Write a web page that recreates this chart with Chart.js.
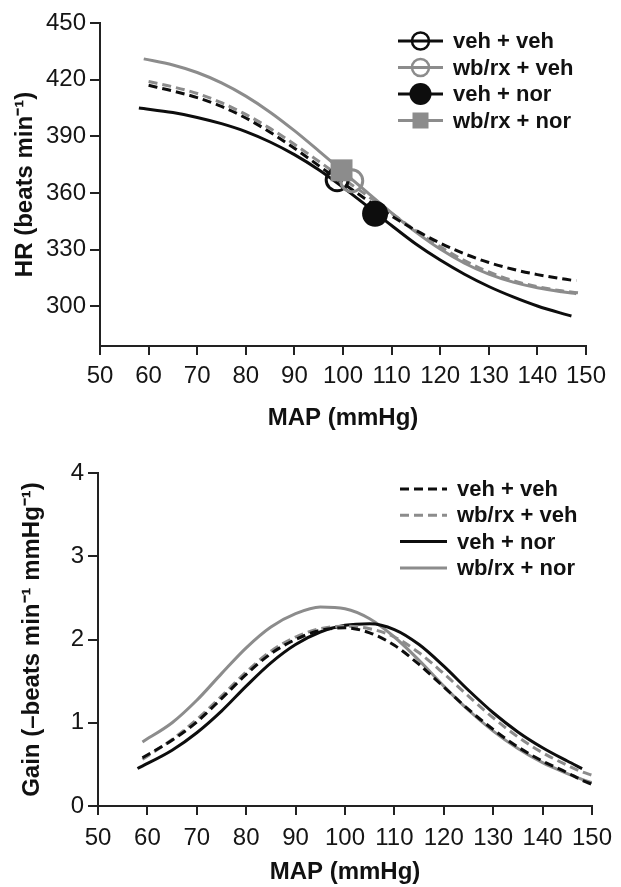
<!DOCTYPE html>
<html>
<head>
<meta charset="utf-8">
<script src="https://cdn.jsdelivr.net/npm/chart.js@4.4.0/dist/chart.umd.min.js"></script>
<style>
  html, body { margin: 0; padding: 0; background: #fff; }
  #wrap { position: relative; width: 621px; height: 887px; }
  #hr, #gain { position: absolute; left: 0; }
  #hr { top: 0; }
  #gain { top: 440px; }
</style>
</head>
<body>
<div id="wrap">
  <canvas id="hr" width="621" height="440"></canvas>
  <canvas id="gain" width="621" height="447"></canvas>
</div>
<script>
// group names (legend order)
const groups = ['veh + veh', 'wb/rx + veh', 'veh + nor', 'wb/rx + nor'];

// ---- top panel: HR vs MAP ----
const hrMap     = [58, 59, 60, 65, 70, 75, 80, 85, 90, 95, 100, 105, 110, 115, 120, 125, 130, 135, 140, 145, 147, 148, 149];
const hrVehVeh  = [null, null, 417, 414, 410.5, 405.8, 399.7, 392.2, 383.7, 374.5, 365.2, 356.2, 347.8, 340.2, 333.5, 327.8, 323.2, 319.6, 316.8, 314.6, null, 313.5, null];
const hrWbVeh   = [null, null, 419, 416.2, 412.7, 407.8, 401.6, 394.2, 385.8, 376.8, 367.6, 358.6, 349.2, 340, 331.6, 324.2, 318.2, 313.6, 310.4, 308.2, null, null, 307];
const hrVehNor  = [405, null, null, 402.6, 400, 396.7, 392.5, 387, 380.3, 372.3, 363, 353, 342.8, 333, 324.5, 317, 310.5, 305, 300.2, 296.3, 294.9, null, null];
const hrWbNor   = [null, 431, null, 427.8, 423.8, 418.3, 411.3, 402.8, 393, 382.3, 371.3, 360.3, 349.5, 339.3, 330.3, 322.8, 317, 312.8, 309.8, 307.7, null, 306.7, null];
// resting points (one per group)
const restMap = [98.8, 101.8, 106.6, 99.7];
const restHR  = [367, 366.5, 349, 372];
const hrTicks = [300, 330, 360, 390, 420, 450];

// ---- bottom panel: gain vs MAP ----
const gainMap    = [58, 59, 65, 70, 75, 80, 85, 90, 95, 100, 105, 110, 115, 120, 125, 130, 135, 140, 145, 148, 150];
const gainVehVeh = [null, 0.58, 0.79, 1.01, 1.29, 1.58, 1.83, 2.0, 2.11, 2.14, 2.08, 1.93, 1.7, 1.43, 1.16, 0.92, 0.71, 0.54, 0.4, 0.31, 0.26];
const gainWbVeh  = [null, 0.56, 0.8, 1.04, 1.32, 1.61, 1.86, 2.03, 2.13, 2.16, 2.13, 2.03, 1.84, 1.59, 1.32, 1.06, 0.83, 0.64, 0.49, 0.41, 0.37];
const gainVehNor = [0.45, null, 0.67, 0.88, 1.14, 1.44, 1.72, 1.94, 2.09, 2.17, 2.19, 2.12, 1.94, 1.68, 1.39, 1.12, 0.89, 0.7, 0.54, 0.45, null];
const gainWbNor  = [null, 0.77, 1.0, 1.27, 1.59, 1.9, 2.15, 2.31, 2.39, 2.37, 2.25, 2.03, 1.75, 1.44, 1.15, 0.9, 0.69, 0.52, 0.39, 0.32, 0.28];
const gainTicks = [0, 1, 2, 3, 4];

const BLACK = '#0d0d0d';
const GREY = '#8c8c8c';
const DASH = [9, 5];
const styles = [
    { color: BLACK, dash: DASH, marker: { style: 'circle', r: 11, fill: false } },
    { color: GREY,  dash: DASH, marker: { style: 'circle', r: 11, fill: false } },
    { color: BLACK, dash: [],   marker: { style: 'circle', r: 13, fill: true } },
    { color: GREY,  dash: [],   marker: { style: 'rect',   r: 15.5, fill: true } },
];

Chart.defaults.font.family = '"Liberation Sans", Arial, sans-serif';
Chart.defaults.color = '#151515';

function pts(xs, ys) {
    return xs.map((x, i) => ({ x: x, y: ys[i] })).filter(p => p.y !== null);
}

function curve(label, xs, ys, st) {
    return {
        label: label,
        data: pts(xs, ys),
        borderColor: st.color,
        borderDash: st.dash,
        borderWidth: 3,
        pointRadius: 0,
        fill: false,
        cubicInterpolationMode: 'monotone',
        order: 10,
    };
}

/*---- legend drawn inside the plot ----*/
const innerLegend = {
    id: 'innerLegend',
    afterDraw(chart, args, opts) {
        if (!opts.items) return;
        const ctx = chart.ctx;
        ctx.save();
        opts.items.forEach((it, i) => {
            const y = opts.y + i * opts.rowH;
            ctx.strokeStyle = it.color;
            ctx.lineWidth = 3;
            ctx.setLineDash(it.dash);
            ctx.beginPath();
            ctx.moveTo(opts.x, y);
            ctx.lineTo(opts.x + opts.lineW, y);
            ctx.stroke();
            ctx.setLineDash([]);
            if (it.marker) {
                const cx = opts.x + opts.lineW / 2;
                const m = it.marker;
                ctx.fillStyle = it.color;
                ctx.lineWidth = 2.5;
                if (m.style === 'rect') {
                    ctx.fillRect(cx - m.r, y - m.r, 2 * m.r, 2 * m.r);
                } else {
                    ctx.beginPath();
                    ctx.arc(cx, y, m.r, 0, Math.PI * 2);
                    if (m.fill) ctx.fill(); else ctx.stroke();
                }
            }
            ctx.fillStyle = '#111';
            ctx.font = 'bold 22px "Liberation Sans", Arial, sans-serif';
            ctx.textBaseline = 'middle';
            ctx.fillText(it.label, opts.textX, y + 1);
        });
        ctx.restore();
    }
};

function xAxis(height, tickPad, titlePad) {
    return {
        type: 'linear',
        min: 50,
        max: 150,
        border: { display: true, color: '#222', width: 2 },
        grid: { display: true, drawOnChartArea: false, drawTicks: true, tickLength: 9, lineWidth: 2, color: '#222' },
        ticks: { stepSize: 10, padding: tickPad, maxRotation: 0, autoSkip: false, font: { size: 24 } },
        title: {
            display: true,
            text: 'MAP (mmHg)',
            color: '#111',
            font: { size: 24, weight: 'bold' },
            padding: { top: 0, bottom: titlePad },
        },
        afterFit: function (s) { s.height = height; },
    };
}

function yAxis(width, min, max, tickVals, text, titlePad) {
    return {
        min: min,
        max: max,
        border: { display: true, color: '#222', width: 2 },
        grid: { display: true, drawOnChartArea: false, drawTicks: true, tickLength: 10, lineWidth: 2, color: '#222' },
        ticks: { padding: 4, font: { size: 24 } },
        afterBuildTicks: function (s) { s.ticks = tickVals.map(v => ({ value: v })); },
        title: {
            display: true,
            text: text,
            color: '#111',
            font: { size: 24, weight: 'bold' },
            padding: { top: titlePad, bottom: 0 },
        },
        afterFit: function (s) { s.width = width; },
    };
}

const baseOpts = {
    responsive: false,
    animation: false,
    events: [],
};

// top chart
const hrSeries = [hrVehVeh, hrWbVeh, hrVehNor, hrWbNor];
const hrSets = hrSeries.map((ys, i) => curve(groups[i], hrMap, ys, styles[i]));
restMap.forEach((x, i) => {
    const m = styles[i].marker;
    hrSets.push({
        label: groups[i] + ' rest',
        data: [{ x: x, y: restHR[i] }],
        showLine: false,
        pointStyle: m.style,
        pointRadius: m.r,
        pointBorderWidth: m.fill ? 0 : 3,
        pointBorderColor: styles[i].color,
        pointBackgroundColor: m.fill ? styles[i].color : 'rgba(0,0,0,0)',
        order: 3 - i,
    });
});

new Chart(document.getElementById('hr'), {
    type: 'line',
    data: { datasets: hrSets },
    options: Object.assign({}, baseOpts, {
        layout: { padding: { top: 23, right: 35, left: 0, bottom: 0 } },
        scales: {
            x: xAxis(94, 7, 7.6),
            y: yAxis(100, 279, 450, hrTicks, 'HR (beats min\u207B\u00B9)', 10.6),
        },
        plugins: {
            legend: { display: false },
            tooltip: { enabled: false },
            innerLegend: {
                x: 398, y: 41, rowH: 26.5, lineW: 45, textX: 453,
                items: groups.map((g, i) => ({
                    label: g, color: styles[i].color, dash: [],
                    marker: { style: styles[i].marker.style, fill: styles[i].marker.fill,
                              r: styles[i].marker.style === 'rect' ? 8 : (styles[i].marker.fill ? 11 : 8.5) },
                })),
            },
        },
    }),
    plugins: [innerLegend],
});

// bottom chart
const gainSeries = [gainVehVeh, gainWbVeh, gainVehNor, gainWbNor];
new Chart(document.getElementById('gain'), {
    type: 'line',
    data: { datasets: gainSeries.map((ys, i) => curve(groups[i], gainMap, ys, styles[i])) },
    options: Object.assign({}, baseOpts, {
        layout: { padding: { top: 33, right: 24, left: 0, bottom: 0 } },
        scales: {
            x: xAxis(81, 9, 0),
            y: yAxis(98, 0, 4, gainTicks, 'Gain (\u2013beats min\u207B\u00B9 mmHg\u207B\u00B9)', 17.6),
        },
        plugins: {
            legend: { display: false },
            tooltip: { enabled: false },
            innerLegend: {
                x: 400, y: 49, rowH: 26.3, lineW: 47, textX: 457,
                items: groups.map((g, i) => ({ label: g, color: styles[i].color, dash: styles[i].dash })),
            },
        },
    }),
    plugins: [innerLegend],
});
</script>
</body>
</html>
